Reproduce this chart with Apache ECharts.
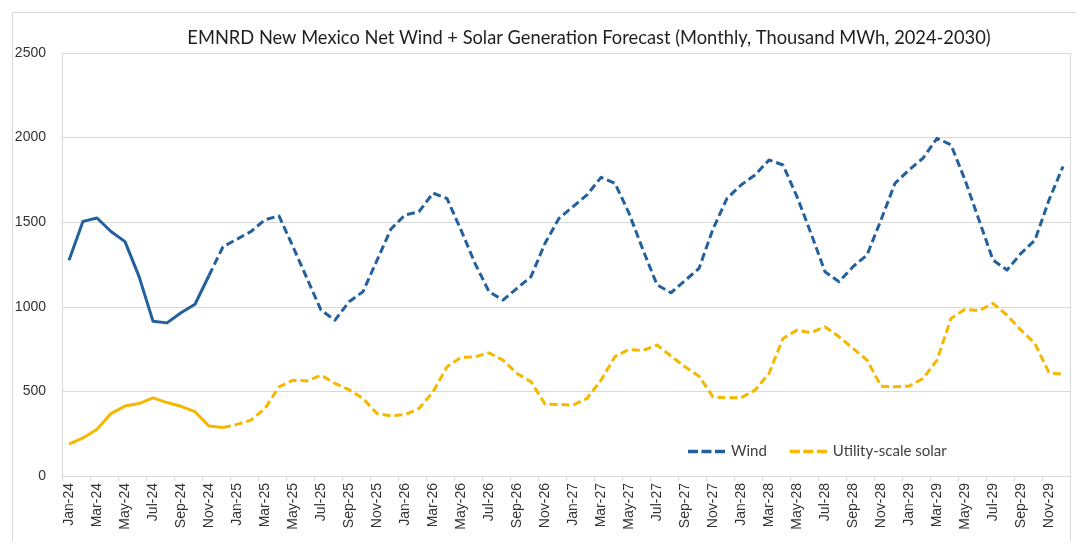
<!DOCTYPE html>
<html>
<head>
<meta charset="utf-8">
<script src="https://cdn.jsdelivr.net/npm/echarts@6/dist/echarts.min.js"></script>
<style>
  html, body { margin: 0; padding: 0; background: #ffffff; }
  #chart { width: 1076px; height: 541px; }
</style>
</head>
<body>
<div id="chart"></div>
<script>
// Months Jan-24 .. Dec-29
const monthNames = ['Jan','Feb','Mar','Apr','May','Jun','Jul','Aug','Sep','Oct','Nov','Dec'];
const years = ['24','25','26','27','28','29'];
const months = [];
years.forEach(y => monthNames.forEach(m => months.push(m + '-' + y)));

// Net generation, thousand MWh
const windValues = [
  1275, 1505, 1525, 1445, 1385, 1180, 915, 905, 965, 1015, 1185, 1355,
  1400, 1445, 1515, 1537, 1355, 1168, 980, 921, 1030, 1089, 1275, 1460,
  1543, 1562, 1672, 1640, 1454, 1257, 1089, 1040, 1109, 1178, 1375, 1523,
  1592, 1661, 1765, 1730, 1553, 1336, 1130, 1083, 1155, 1227, 1460, 1641,
  1720, 1779, 1868, 1838, 1651, 1434, 1207, 1148, 1237, 1306, 1513, 1730,
  1809, 1878, 1996, 1957, 1750, 1513, 1276, 1217, 1316, 1395, 1631, 1829
];
const solarValues = [
  188, 225, 276, 369, 414, 428, 462, 434, 412, 380, 295, 286,
  305, 330, 399, 527, 566, 562, 596, 547, 510, 458, 369, 356,
  363, 399, 497, 645, 701, 704, 728, 685, 606, 557, 425, 423,
  419, 458, 566, 706, 748, 742, 774, 709, 645, 590, 468, 462,
  462, 507, 606, 813, 862, 847, 882, 823, 754, 685, 531, 527,
  531, 576, 685, 931, 985, 977, 1020, 951, 862, 783, 610, 602
];

// Last month index drawn as a solid (reported) line; forecast is dashed from there
const windActualEnd = 10;
const solarActualEnd = 11;

const seriesNames = ['Wind', 'Utility-scale solar'];
const yTicks = { min: 0, max: 2500, step: 500 };

const WIND_COLOR = '#22609E';
const SOLAR_COLOR = '#F4B800';

// Legend key: three short dashes
const DASH_ICON = 'path://M0 0h10v3.4h-10z M13.5 0h10v3.4h-10z M27 0h10v3.4h-10z';

function head(values, end) { return values.map((v, i) => i <= end ? v : null); }
function tail(values, start) { return values.map((v, i) => i >= start ? v : null); }

function lineSeries(name, data, color, dashed) {
  return {
    name: name,
    type: 'line',
    data: data,
    symbol: 'none',
    smooth: false,
    connectNulls: false,
    lineStyle: {
      color: color,
      width: 3,
      type: dashed ? [8, 4] : 'solid',
      cap: 'butt',
      join: 'round'
    },
    itemStyle: { color: color },
    emphasis: { disabled: true },
    animation: false
  };
}

const chart = echarts.init(document.getElementById('chart'), null, { renderer: 'canvas' });

chart.setOption({
  backgroundColor: '#ffffff',
  animation: false,
  title: {
    text: 'EMNRD New Mexico Net Wind + Solar Generation Forecast (Monthly, Thousand MWh, 2024-2030)',
    left: 584,
    textAlign: 'center',
    top: 24,
    textStyle: {
      fontFamily: 'Lato',
      fontSize: 18.3,
      fontWeight: 'normal',
      color: '#1f1f1f'
    }
  },
  legend: {
    data: seriesNames.map(n => ({ name: n, icon: DASH_ICON })),
    left: 683,
    top: 439,
    itemWidth: 37,
    itemHeight: 3.4,
    itemGap: 23,
    symbolKeepAspect: true,
    textStyle: {
      fontFamily: 'Lato',
      fontSize: 15,
      color: '#404040',
      padding: [0, 0, 0, 1]
    }
  },
  grid: {
    left: 62,
    right: 6,
    top: 53,
    bottom: 65,
    containLabel: false
  },
  xAxis: {
    type: 'category',
    data: months,
    boundaryGap: true,
    axisLine: { show: true, lineStyle: { color: '#d9d9d9', width: 1 } },
    axisTick: { show: true, interval: 1, length: 5, lineStyle: { color: '#d9d9d9' } },
    axisLabel: {
      interval: 1,
      rotate: 90,
      margin: 7,
      fontFamily: 'Liberation Sans',
      fontSize: 14,
      color: '#333333'
    },
    splitLine: { show: false }
  },
  yAxis: {
    type: 'value',
    min: yTicks.min,
    max: yTicks.max,
    interval: yTicks.step,
    axisLine: { show: true, lineStyle: { color: '#d9d9d9' } },
    axisTick: { show: false },
    axisLabel: {
      margin: 16,
      fontFamily: 'Liberation Sans',
      fontSize: 14,
      color: '#333333',
      formatter: v => String(v)
    },
    splitLine: { show: true, lineStyle: { color: '#d9d9d9', width: 1 } }
  },
  graphic: [
    {
      type: 'rect',
      silent: true,
      shape: { x: 12.5, y: 12.5, width: 1100, height: 600 },
      style: { fill: 'none', stroke: '#d9d9d9', lineWidth: 1 }
    },
    {
      type: 'line',
      silent: true,
      shape: { x1: 1070.5, y1: 53, x2: 1070.5, y2: 541 },
      style: { stroke: '#d9d9d9', lineWidth: 1 }
    }
  ],
  series: [
    lineSeries('Wind (reported)', head(windValues, windActualEnd), WIND_COLOR, false),
    lineSeries('Utility-scale solar (reported)', head(solarValues, solarActualEnd), SOLAR_COLOR, false),
    lineSeries(seriesNames[0], tail(windValues, windActualEnd), WIND_COLOR, true),
    lineSeries(seriesNames[1], tail(solarValues, solarActualEnd), SOLAR_COLOR, true)
  ]
});
</script>
</body>
</html>
